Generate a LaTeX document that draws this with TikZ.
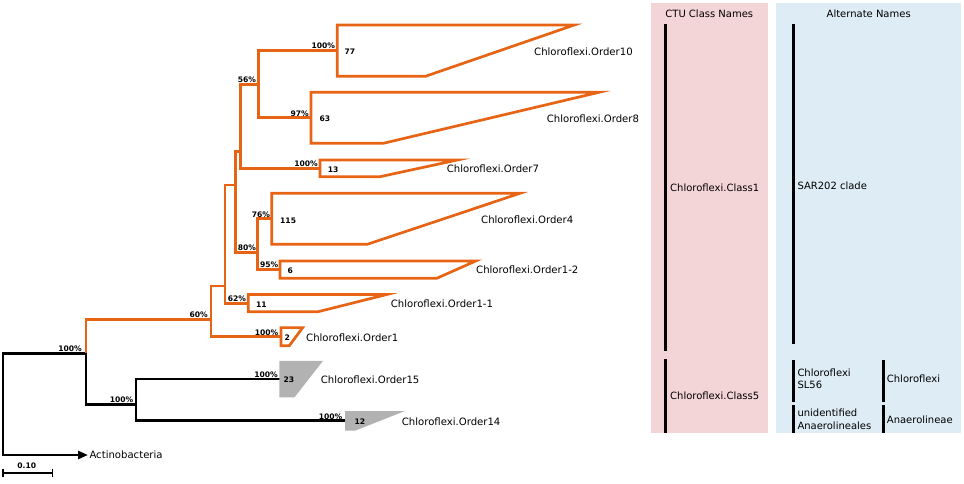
\documentclass[tikz,border=0pt]{standalone}
\usepackage{fontspec}
\setmainfont{DejaVu Sans}
\usetikzlibrary{arrows.meta}
\definecolor{treeor}{RGB}{230,100,20}
\definecolor{panpink}{RGB}{244,213,215}
\definecolor{panblue}{RGB}{222,236,245}
\definecolor{cladegray}{RGB}{178,178,178}
\begin{document}
\begin{tikzpicture}[x=1pt,y=-1pt,
  br/.style={line width=2.7pt, line join=miter},
  obr/.style={br, draw=treeor},
  kbr/.style={br, draw=black},
  obox/.style={draw=treeor, line width=2.7pt, line join=miter},
  gbox/.style={fill=cladegray},
  boot/.style={font=\fontsize{7.6}{9}\selectfont\bfseries, anchor=south east, inner sep=0pt},
  cnt/.style={font=\fontsize{7.6}{9}\selectfont\bfseries, anchor=west, inner sep=0pt},
  taxon/.style={font=\fontsize{10.1}{12}\selectfont, anchor=west, inner sep=0pt},
  ptitle/.style={font=\fontsize{10}{12}\selectfont, inner sep=0pt},
  plabel/.style={font=\fontsize{10}{12.7}\selectfont, anchor=west, inner sep=0pt, align=left},
  bar/.style={line width=3pt}]
\useasboundingbox (0,0) rectangle (964,483);

% ---------- side panels ----------
\fill[panpink] (650.7,3.3) rectangle (768,432.7);
\fill[panblue] (776,3.3) rectangle (961,432.7);
\node[ptitle] (ctu) at (709.3,13.3) {CTU Class Names};
\node[ptitle] (alt) at (868.7,13.3) {Alternate Names};
\draw[bar] (665.3,24.3) -- (665.3,350.7);
\draw[bar] (665.3,359.3) -- (665.3,432.7);
\node[plabel] (cl1) at (670,187.3) {Chloroflexi.Class1};
\node[plabel] (cl5) at (670,395.7) {Chloroflexi.Class5};
\draw[bar] (793.3,24.3) -- (793.3,344.3);
\node[plabel] (sar) at (797.3,185.7) {SAR202 clade};
\draw[bar] (793.3,360) -- (793.3,401.7);
\draw[bar] (793.3,405) -- (793.3,432.7);
\draw[bar] (883.7,360) -- (883.7,401.7);
\draw[bar] (883.7,405) -- (883.7,432.7);
\node[plabel] (sl56) at (797.3,378.7) {Chloroflexi\\SL56};
\node[plabel] (unid) at (797.3,419.5) {unidentified\\Anaerolineales};
\node[plabel] (chl) at (886.7,378.3) {Chloroflexi};
\node[plabel] (ana) at (886.7,419.3) {Anaerolineae};

% ---------- tree coordinates ----------
\coordinate (R) at (3,353.3);
\coordinate (C) at (86,353.3);
\coordinate (A) at (88,455);
\coordinate (N60) at (211,319.3);
\coordinate (B2) at (281,336.7);
\coordinate (N225) at (225,286);
\coordinate (B11) at (248.3,303.2);
\coordinate (N235) at (235.3,185);
\coordinate (N80) at (257.7,252.3);
\coordinate (B115) at (271.7,218.8);
\coordinate (B6) at (280,269.6);
\coordinate (N240) at (240.7,151.7);
\coordinate (B13) at (320,168.3);
\coordinate (N56) at (258.3,84.3);
\coordinate (B77) at (337.3,50.6);
\coordinate (B63) at (311,117.8);
\coordinate (N136) at (136,404.3);
\coordinate (B15) at (280,379);
\coordinate (B14) at (345,420.8);

% ---------- black branches ----------
\draw[kbr, -{Triangle[length=10pt,width=8pt]}] (C) -- (R) |- (A);
\draw[kbr] (C) |- (N136);
\draw[kbr] (N136) |- (B15);
\draw[kbr] (N136) |- (B14);

% ---------- orange branches ----------
\draw[obr] (C) |- (N60);
\draw[obr] (N60) |- (B2);
\draw[obr] (N60) |- (N225);
\draw[obr] (N225) |- (B11);
\draw[obr] (N225) |- (N235);
\draw[obr] (N235) |- (N80);
\draw[obr] (N80) |- (B115);
\draw[obr] (N80) |- (B6);
\draw[obr] (N235) |- (N240);
\draw[obr] (N240) |- (B13);
\draw[obr] (N240) |- (N56);
\draw[obr] (N56) |- (B77);
\draw[obr] (N56) |- (B63);

% ---------- collapsed clades ----------
\draw[obox] (337.3,25) -- (574.3,25) -- (425.7,76.2) -- (337.3,76.2) -- cycle;
\draw[obox] (311,92.3) -- (599,92.3) -- (383.3,143.3) -- (311,143.3) -- cycle;
\draw[obox] (320,160) -- (457.3,160) -- (380,176.7) -- (320,176.7) -- cycle;
\draw[obox] (271.7,193.3) -- (520,193.3) -- (367.3,244.3) -- (271.7,244.3) -- cycle;
\draw[obox] (280,261) -- (475.7,261) -- (436.7,278.3) -- (280,278.3) -- cycle;
\draw[obox] (248.3,294.5) -- (386.7,294.5) -- (317.7,311.8) -- (248.3,311.8) -- cycle;
\draw[obox] (281,327.6) -- (302.7,327.6) -- (289.3,345.7) -- (281,345.7) -- cycle;
\fill[gbox] (279.3,360.8) -- (323,360.8) -- (294.5,397.3) -- (279.3,397.3) -- cycle;
\fill[gbox] (345,411) -- (405,411) -- (355,430.7) -- (345,430.7) -- cycle;

% ---------- bootstrap values ----------
\node[boot] (s1) at ([xshift=-2pt,yshift=1.3pt]B77) {100\%};
\node[boot] (s2) at ([xshift=-2pt,yshift=1.3pt]B63) {97\%};
\node[boot] (s3) at ([xshift=-2pt,yshift=1.3pt]N56) {56\%};
\node[boot] (s4) at ([xshift=-2pt,yshift=1.3pt]B13) {100\%};
\node[boot] (s5) at ([xshift=-1.5pt,yshift=1.3pt]B115) {76\%};
\node[boot] (s6) at ([xshift=-1.5pt,yshift=1.3pt]B6) {95\%};
\node[boot] (s7) at ([xshift=-1.5pt,yshift=1.3pt]N80) {80\%};
\node[boot] (s8) at ([xshift=-2pt,yshift=1.3pt]B11) {62\%};
\node[boot] (s9) at ([xshift=-3pt,yshift=1.3pt]N60) {60\%};
\node[boot] (s10) at ([xshift=-2.5pt,yshift=1.3pt]B2) {100\%};
\node[boot] (s11) at ([xshift=-4pt,yshift=1.3pt]C) {100\%};
\node[boot] (s12) at ([xshift=-2.5pt,yshift=1.3pt]N136) {100\%};
\node[boot] (s13) at ([xshift=-2pt,yshift=1.3pt]B15) {100\%};
\node[boot] (s14) at ([xshift=-2.5pt,yshift=1.3pt]B14) {100\%};

% ---------- clade sizes ----------
\node[cnt] (c77) at (344.3,51.7) {77};
\node[cnt] (c63) at (319.3,119) {63};
\node[cnt] (c13) at (327.7,169.5) {13};
\node[cnt] (c115) at (280,220.7) {115};
\node[cnt] (c6) at (287.3,270.7) {6};
\node[cnt] (c11) at (256,304.5) {11};
\node[cnt] (c2) at (284.5,337.3) {2};
\node[cnt] (c23) at (283.3,380) {23};
\node[cnt] (c12) at (354.3,421.3) {12};

% ---------- taxon names ----------
\node[taxon] (o10) at (534,51.7) {Chloroflexi.Order10};
\node[taxon] (o8) at (546.7,119) {Chloroflexi.Order8};
\node[taxon] (o7) at (446.7,168.5) {Chloroflexi.Order7};
\node[taxon] (o4) at (481,220) {Chloroflexi.Order4};
\node[taxon] (o12) at (476,270) {Chloroflexi.Order1-2};
\node[taxon] (o11) at (390.7,304) {Chloroflexi.Order1-1};
\node[taxon] (o1) at (306,337.3) {Chloroflexi.Order1};
\node[taxon] (o15) at (320.7,380) {Chloroflexi.Order15};
\node[taxon] (o14) at (401.7,421.7) {Chloroflexi.Order14};
\node[taxon] (act) at (89.3,455) {Actinobacteria};

% ---------- scale bar ----------
\coordinate (sb1) at (3,472.8);
\coordinate (sb2) at (52.3,472.8);
\draw[line width=2pt] (sb1) -- (sb2);
\draw[line width=1.3pt] ([yshift=4.2pt]sb1) -- ([yshift=-4.2pt]sb1);
\draw[line width=1.3pt] ([yshift=4.2pt]sb2) -- ([yshift=-4.2pt]sb2);
\node[font=\fontsize{7.6}{9}\selectfont\bfseries, inner sep=0pt] (sbl) at (26.7,465.5) {0.10};
\end{tikzpicture}
\end{document}
